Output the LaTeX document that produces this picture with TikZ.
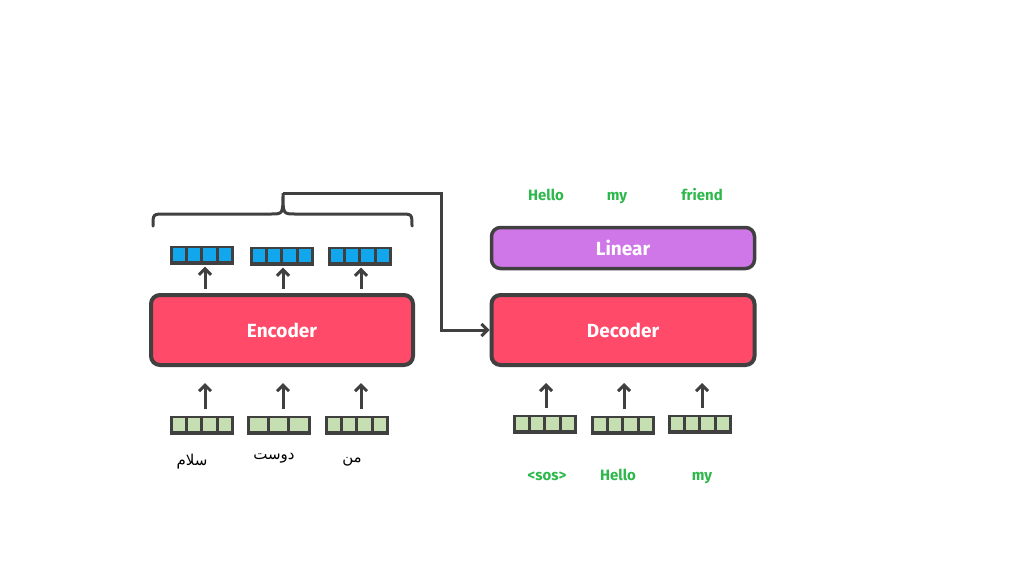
\documentclass[tikz,border=0pt]{standalone}
\usepackage{fontspec}
\setmainfont{Fira Sans}
\newfontfamily\arabicfont[Script=Arabic]{DejaVu Sans}
\TeXXeTstate=1
\usetikzlibrary{arrows.meta,calc}
\definecolor{edge}{HTML}{404040}
\definecolor{redbox}{HTML}{FF4A6A}
\definecolor{purplebox}{HTML}{CF77E8}
\definecolor{bluecell}{HTML}{12A6EC}
\definecolor{greencell}{HTML}{C5DFB2}
\definecolor{greentext}{HTML}{2DB84B}
\tikzset{
  block/.style={draw=edge, line width=4pt, rounded corners=9pt, font=\bfseries\fontsize{19}{21}\selectfont, text=white},
  vecbox/.style={fill=edge, inner sep=0pt, minimum width=64pt, minimum height=19pt},
  uparrow/.style={draw=edge, line width=3pt, -{Straight Barb[length=6pt,width=12pt,line width=3pt]}},
  wordlbl/.style={text=greentext, anchor=base, inner sep=0pt, font=\bfseries\fontsize{15}{17}\selectfont},
  farsi/.style={font=\arabicfont\fontsize{15}{17}\selectfont},
}
% \vecnode{name}{x}{y}{cells}{color}
\newcommand{\vecnode}[5]{%
  \node[vecbox] (#1) at (#2,#3) {};
  \pgfmathsetmacro{\cw}{(64-3*(#4+1))/#4}
  \foreach \i in {1,...,#4} {
    \fill[#5] ($(#1.north west)+({3+(\i-1)*(\cw+3)},3)$) rectangle ++(\cw,13);
  }
}
\begin{document}
\begin{tikzpicture}[x=1pt,y=-1pt]
\useasboundingbox (0,0) rectangle (1024,576);
\fill[white] (0,0) rectangle (1024,576);

% main blocks
\node[block, fill=redbox, minimum width=262pt, minimum height=70pt] (enc) at (282,330) {Encoder};
\node[block, fill=redbox, minimum width=263pt, minimum height=70pt] (dec) at (623,330) {Decoder};
\node[block, fill=purplebox, minimum width=263pt, minimum height=41pt, line width=3.5pt] (lin) at (623,248) {Linear};

% encoder output vectors
\vecnode{o1}{202}{255}{4}{bluecell}
\vecnode{o2}{282}{256}{4}{bluecell}
\vecnode{o3}{360}{256}{4}{bluecell}

% encoder input vectors
\vecnode{e1}{202}{425}{4}{greencell}
\vecnode{e2}{279}{425}{3}{greencell}
\vecnode{e3}{357}{425}{4}{greencell}

% decoder input vectors
\vecnode{d1}{545}{424}{4}{greencell}
\vecnode{d2}{623}{425}{4}{greencell}
\vecnode{d3}{700}{424}{4}{greencell}

% arrows encoder -> outputs
\draw[uparrow] ([yshift=4pt]enc.north -| 205,0) -- ([yshift=-2pt]o1.south -| 205,0);
\draw[uparrow] ([yshift=4pt]enc.north -| 283,0) -- ([yshift=-2pt]o2.south -| 283,0);
\draw[uparrow] ([yshift=4pt]enc.north -| 361,0) -- ([yshift=-2pt]o3.south -| 361,0);

% arrows inputs -> encoder
\draw[uparrow] ([yshift=6pt]e1.north -| 205,0) -- ([yshift=-16pt]enc.south -| 205,0);
\draw[uparrow] ([yshift=6pt]e2.north -| 283,0) -- ([yshift=-16pt]enc.south -| 283,0);
\draw[uparrow] ([yshift=6pt]e3.north -| 361,0) -- ([yshift=-16pt]enc.south -| 361,0);

% arrows inputs -> decoder
\draw[uparrow] ([yshift=6pt]d1.north -| 546,0) -- ([yshift=-16pt]dec.south -| 546,0);
\draw[uparrow] ([yshift=6pt]d2.north -| 624,0) -- ([yshift=-16pt]dec.south -| 624,0);
\draw[uparrow] ([yshift=6pt]d3.north -| 702,0) -- ([yshift=-16pt]dec.south -| 702,0);

% brace over encoder outputs
\coordinate (brtop) at (283,193);
\draw[edge, line width=3pt, line cap=round]
  (153,226) .. controls (153,214) .. (165,214) -- (271,214)
  .. controls (283,214) .. (brtop)
  .. controls (283,214) .. (295,214) -- (400,214)
  .. controls (412,214) .. (412,226);

% connector encoder states -> decoder
\coordinate (turn) at (441,193);
\draw[edge, line width=3pt, -{Straight Barb[length=6pt,width=12pt,line width=3pt]}]
  (brtop) -- (turn) |- (dec.west);

% labels
\node[farsi] (w1) at (192,462) {\beginR سلام\endR};
\node[farsi] (w2) at (274,458) {\beginR دوست\endR};
\node[farsi] (w3) at (352,462) {\beginR من\endR};

\node[wordlbl] (s1) at (547,480) {<sos>};
\node[wordlbl] (s2) at (618,480) {Hello};
\node[wordlbl] (s3) at (702,480) {my};

\node[wordlbl] (t1) at (546,200) {Hello};
\node[wordlbl] (t2) at (617,200) {my};
\node[wordlbl] (t3) at (702,200) {friend};
\end{tikzpicture}
\end{document}
